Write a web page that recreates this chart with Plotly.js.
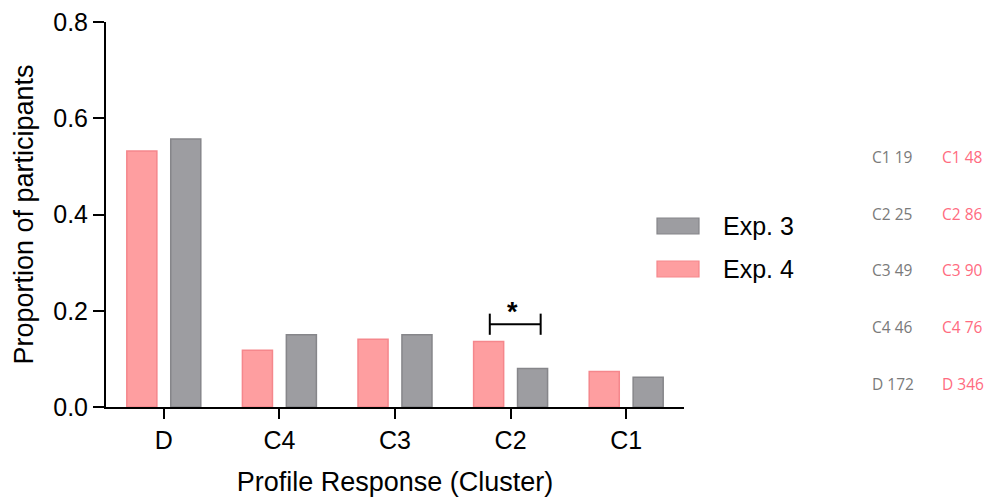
<!DOCTYPE html>
<html>
<head>
<meta charset="utf-8">
<script src="https://cdn.plot.ly/plotly-3.0.1.min.js"></script>
<style>
  html, body { margin: 0; padding: 0; background: #fff; }
  #chart { width: 992px; height: 498px; }
</style>
</head>
<body>
<div id="chart"></div>
<script>
// Profile response clusters, in axis order
const categories = ['D', 'C4', 'C3', 'C2', 'C1'];

// Proportion of participants per cluster
const exp4Values = [0.532, 0.118, 0.141, 0.136, 0.074];
const exp3Values = [0.557, 0.150, 0.150, 0.080, 0.062];

// Participant counts per cluster (listed top to bottom on the right)
const countLabels = ['C1', 'C2', 'C3', 'C4', 'D'];
const exp3Counts = [19, 25, 49, 46, 172];
const exp4Counts = [48, 86, 90, 76, 346];

const seriesNames = ['Exp. 3', 'Exp. 4'];
const yTicks = [0.0, 0.2, 0.4, 0.6, 0.8];

const PINK = '#fe9ea0', PINK_EDGE = '#f5878c';
const GREY = '#9d9da1', GREY_EDGE = '#86868a';
const FONT = 'Arial, "Liberation Sans", sans-serif';

const traces = [
  {
    type: 'bar', name: seriesNames[1], x: categories, y: exp4Values,
    width: 0.26, offset: -0.32,
    marker: { color: PINK, line: { color: PINK_EDGE, width: 1.5 } },
    showlegend: false, hoverinfo: 'x+y'
  },
  {
    type: 'bar', name: seriesNames[0], x: categories, y: exp3Values,
    width: 0.26, offset: 0.06,
    marker: { color: GREY, line: { color: GREY_EDGE, width: 1.5 } },
    showlegend: false, hoverinfo: 'x+y'
  }
];

const shapes = [];
const annotations = [];

// significance bracket between the two C2 bars
const c2 = categories.indexOf('C2');
const brL = c2 - 0.18, brR = c2 + 0.26, brY = 0.172, brTop = 0.194, brBot = 0.150;
shapes.push(
  { type: 'line', xref: 'x', yref: 'y', x0: brL, x1: brR, y0: brY, y1: brY, line: { color: '#000', width: 2 } },
  { type: 'line', xref: 'x', yref: 'y', x0: brL, x1: brL, y0: brBot, y1: brTop, line: { color: '#000', width: 2 } },
  { type: 'line', xref: 'x', yref: 'y', x0: brR, x1: brR, y0: brBot, y1: brTop, line: { color: '#000', width: 2 } }
);
annotations.push({
  xref: 'x', yref: 'y', x: (brL + brR) / 2 - 0.02, y: 0.197, yanchor: 'middle',
  text: '<b>*</b>', showarrow: false, font: { family: FONT, size: 27, color: '#000' }
});

// legend: swatches and labels drawn in pixel space
const W = 992, H = 498, ml = 106, mr = 308, mt = 22, mb = 91;
const pw = W - ml - mr, ph = H - mt - mb;
const px = x => (x - ml) / pw;
const py = y => (H - mb - y) / ph;
const legendRows = [
  { name: seriesNames[0], fill: GREY, edge: GREY_EDGE, yTop: 218 },
  { name: seriesNames[1], fill: PINK, edge: PINK_EDGE, yTop: 261 }
];
legendRows.forEach(r => {
  shapes.push({
    type: 'rect', xref: 'paper', yref: 'paper',
    x0: px(657), x1: px(699), y0: py(r.yTop + 16), y1: py(r.yTop),
    fillcolor: r.fill, line: { color: r.edge, width: 1.2 }
  });
  annotations.push({
    xref: 'paper', yref: 'paper', x: px(721), y: py(r.yTop + 8),
    xanchor: 'left', yanchor: 'middle', text: r.name, showarrow: false,
    font: { family: FONT, size: 25, color: '#000' }
  });
});

// count table on the right
const rowY = [157, 214, 270, 327, 384];
countLabels.forEach((c, i) => {
  annotations.push({
    xref: 'paper', yref: 'paper', x: px(870), y: py(rowY[i]),
    xanchor: 'left', yanchor: 'middle', text: c + ' ' + exp3Counts[i], showarrow: false,
    font: { family: '"Open Sans", sans-serif', size: 15.5, color: '#7a7a7a' }
  });
  annotations.push({
    xref: 'paper', yref: 'paper', x: px(940), y: py(rowY[i]),
    xanchor: 'left', yanchor: 'middle', text: c + ' ' + exp4Counts[i], showarrow: false,
    font: { family: '"Open Sans", sans-serif', size: 15.5, color: '#ff6b80' }
  });
});

const layout = {
  width: W, height: H,
  margin: { l: ml, r: mr, t: mt, b: mb, pad: 0 },
  paper_bgcolor: '#fff', plot_bgcolor: '#fff',
  barmode: 'overlay',
  showlegend: false,
  font: { family: FONT, color: '#000' },
  xaxis: {
    type: 'category', range: [-0.5, 4.5],
    showline: true, linecolor: '#000', linewidth: 2,
    ticks: 'outside', ticklen: 10, tickwidth: 2, tickcolor: '#000',
    tickfont: { family: FONT, size: 25, color: '#000' },
    showgrid: false, zeroline: false, fixedrange: true,
    title: { text: 'Profile Response (Cluster)', font: { family: FONT, size: 27, color: '#000' }, standoff: 19 }
  },
  yaxis: {
    range: [0, 0.8], tickvals: yTicks, tickformat: '.1f',
    showline: true, linecolor: '#000', linewidth: 2,
    ticks: 'outside', ticklen: 11, tickwidth: 2, tickcolor: '#000',
    tickfont: { family: FONT, size: 25, color: '#000' },
    showgrid: false, zeroline: false, fixedrange: true,
    title: { text: 'Proportion of participants', font: { family: FONT, size: 27, color: '#000' }, standoff: 12 }
  },
  shapes: shapes,
  annotations: annotations
};

Plotly.newPlot('chart', traces, layout, { displayModeBar: false, staticPlot: true });
</script>
</body>
</html>
